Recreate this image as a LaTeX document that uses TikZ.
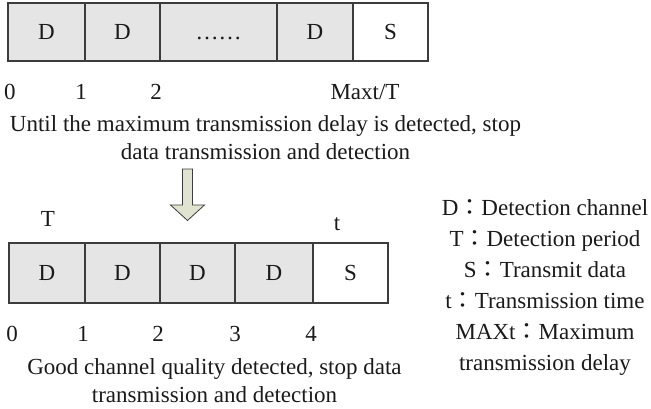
\documentclass[tikz,border=0pt]{standalone}
\usepackage{fontspec}
\setmainfont{Liberation Serif}
\newfontfamily\cjk{Noto Sans CJK TC}
\definecolor{cellgray}{HTML}{E5E5E5}
\definecolor{edgegray}{HTML}{3C3C3C}
\definecolor{sage}{HTML}{DFE3CF}
\definecolor{ink}{HTML}{1A1A1A}
\begin{document}
\begin{tikzpicture}[x=1pt,y=-1pt,
  every node/.style={font=\fontsize{23}{28}\selectfont, text=ink, inner sep=0pt},
  cell/.style={draw=edgegray, line width=1.2pt, fill=cellgray, minimum height=#1,
               text height=15.2pt, text depth=0pt},
  cell/.default=58pt,
  sendcell/.style={cell=#1, fill=white},
  sendcell/.default=58pt,
  lbl/.style={anchor=base},
  blockarrow/.style={draw=edgegray, line width=0.8pt, fill=sage, line join=miter}]
\useasboundingbox (0,0) rectangle (651,408);

% upper frame sequence: detection up to the maximum delay
\node[cell, minimum width=77pt] (a1) at (46.5,32) {D};
\node[cell, minimum width=75pt] (a2) at (122.5,32) {D};
\node[cell, minimum width=117pt] (a3) at (218.5,32) {……};
\node[cell, minimum width=76pt] (a4) at (315,32) {D};
\node[sendcell, minimum width=75pt] (a5) at (390.5,32) {S};

\node[lbl] (n0) at (10,99) {0};
\node[lbl] (n1) at (81,99) {1};
\node[lbl] (n2) at (156,99) {2};
\node[lbl] (nmax) at (365,99) {Maxt/T};

\node[lbl] (capA1) at (265.5,131) {Until the maximum transmission delay is detected, stop};
\node[lbl] (capA2) at (265.5,159) {data transmission and detection};

% block arrow between the two sequences
\draw[blockarrow] (182.5,169) -- (192.5,169) -- (192.5,205) -- (204.5,205)
  -- (187.5,220.5) -- (170.5,205) -- (182.5,205) -- cycle;

% lower frame sequence: early stop on a good channel
\node[lbl] (lT) at (48,226) {T};
\node[lbl] (lt) at (337,230.5) {t};

\node[cell=60pt, minimum width=76pt] (b1) at (47,273) {D};
\node[cell=60pt, minimum width=75pt] (b2) at (122.5,273) {D};
\node[cell=60pt, minimum width=75pt] (b3) at (197.5,273) {D};
\node[cell=60pt, minimum width=78pt] (b4) at (274,273) {D};
\node[sendcell=60pt, minimum width=75pt] (b5) at (350.5,273) {S};

\node[lbl] (m0) at (12,341) {0};
\node[lbl] (m1) at (83,341) {1};
\node[lbl] (m2) at (158,341) {2};
\node[lbl] (m3) at (235,341) {3};
\node[lbl] (m4) at (311,341) {4};

\node[lbl] (capB1) at (214.5,374) {Good channel quality detected, stop data};
\node[lbl] (capB2) at (214.5,402) {transmission and detection};

% legend
\node[lbl] (k1) at (545,215.5) {D{\cjk ：}Detection channel};
\node[lbl] (k2) at (545,246.5) {T{\cjk ：}Detection period};
\node[lbl] (k3) at (545,277.5) {S{\cjk ：}Transmit data};
\node[lbl] (k4) at (545,308.5) {t{\cjk ：}Transmission time};
\node[lbl] (k5) at (545,339.5) {MAXt{\cjk ：}Maximum};
\node[lbl] (k6) at (545,370.5) {transmission delay};
\end{tikzpicture}
\end{document}
